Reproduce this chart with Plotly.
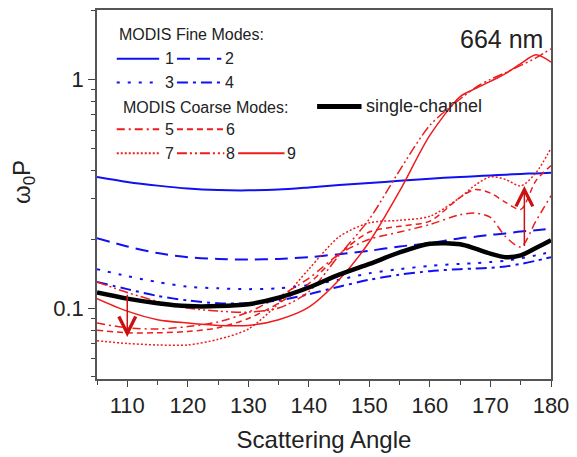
import numpy as np
import plotly.graph_objects as go

# ---------------- data ----------------
ANGLE = [105, 110, 115, 120, 125, 130, 135, 140, 145, 150, 155, 160, 165, 167.5, 170, 172.5, 175, 177.5, 180]

FINE_1 = [0.374, 0.356, 0.343, 0.333, 0.328, 0.327, 0.330, 0.337, 0.345, 0.352, 0.360, 0.368, 0.374, 0.377, 0.380, 0.383, 0.386, 0.388, 0.390]
FINE_2 = [0.202, 0.186, 0.174, 0.167, 0.164, 0.163, 0.164, 0.167, 0.172, 0.178, 0.186, 0.192, 0.202, 0.205, 0.209, 0.212, 0.216, 0.219, 0.222]
FINE_3 = [0.148, 0.138, 0.130, 0.124, 0.122, 0.121, 0.122, 0.126, 0.133, 0.142, 0.148, 0.153, 0.156, 0.157, 0.159, 0.161, 0.165, 0.170, 0.176]
FINE_4 = [0.130, 0.121, 0.113, 0.108, 0.105, 0.105, 0.108, 0.115, 0.124, 0.133, 0.140, 0.145, 0.148, 0.149, 0.150, 0.152, 0.156, 0.161, 0.167]

COARSE_5 = [0.086, 0.082, 0.081, 0.083, 0.087, 0.096, 0.112, 0.135, 0.172, 0.200, 0.215, 0.232, 0.256, 0.260, 0.249, 0.205, 0.185, 0.240, 0.310]
COARSE_6 = [0.080, 0.078, 0.078, 0.079, 0.082, 0.090, 0.105, 0.128, 0.172, 0.215, 0.228, 0.240, 0.305, 0.330, 0.318, 0.290, 0.270, 0.360, 0.420]
COARSE_7 = [0.072, 0.070, 0.069, 0.069, 0.073, 0.081, 0.105, 0.148, 0.205, 0.236, 0.242, 0.252, 0.305, 0.345, 0.375, 0.365, 0.342, 0.390, 0.500]
COARSE_8 = [0.130, 0.117, 0.107, 0.100, 0.097, 0.096, 0.100, 0.118, 0.170, 0.245, 0.400, 0.630, 0.820, 0.920, 1.000, 1.070, 1.150, 1.240, 1.360]
COARSE_9 = [0.110, 0.097, 0.089, 0.086, 0.084, 0.084, 0.089, 0.101, 0.133, 0.195, 0.325, 0.570, 0.840, 0.910, 0.980, 1.060, 1.170, 1.280, 1.190]

SINGLE = [0.117, 0.110, 0.105, 0.102, 0.102, 0.104, 0.111, 0.123, 0.140, 0.156, 0.175, 0.191, 0.190, 0.182, 0.173, 0.167, 0.170, 0.183, 0.198]

X_TICKS = [110, 120, 130, 140, 150, 160, 170, 180]
Y_TICKS = [0.1, 1]
Y_TICK_TEXT = ["0.1", "1"]

ARROW_DOWN = dict(x=110, tail=0.116, head=0.0748)
ARROW_UP = dict(x=175.6, tail=0.184, head=0.342)

# ---------------- styles ----------------
BLUE = "#1010f0"
RED = "#ee1c1c"
FONT = "Liberation Sans, Arial, sans-serif"
TXT = "#222222"

styles = [
    ("1", FINE_1, BLUE, 2.0, "solid"),
    ("2", FINE_2, BLUE, 2.0, "13px,7px"),
    ("3", FINE_3, BLUE, 2.0, "3px,8px"),
    ("4", FINE_4, BLUE, 2.0, "11px,5px,3px,5px"),
    ("5", COARSE_5, RED, 1.5, "8px,4px,2px,4px"),
    ("6", COARSE_6, RED, 1.5, "6px,4px"),
    ("7", COARSE_7, RED, 1.5, "2px,2px"),
    ("8", COARSE_8, RED, 1.5, "10px,3px,2px,3px,2px,3px"),
    ("9", COARSE_9, RED, 1.5, "solid"),
]

fig = go.Figure()
for name, vals, col, w, dash in styles:
    fig.add_trace(go.Scatter(x=ANGLE, y=vals, mode="lines", name=name,
                             line=dict(color=col, width=w, dash=dash, shape="spline", smoothing=0.8),
                             showlegend=False))
fig.add_trace(go.Scatter(x=ANGLE, y=SINGLE, mode="lines", name="single-channel",
                         line=dict(color="black", width=4.5, shape="spline", smoothing=0.8),
                         showlegend=False))

# ---------------- layout helpers (pixel -> paper) ----------------
L, R, T, B = 97, 557, 8, 379
def px(x):
    return (x - L) / (R - L)
def py(y):
    return (B - y) / (B - T)

shapes = []
annotations = []

def leg_line(x0, x1, y, col, w, dash):
    shapes.append(dict(type="line", xref="paper", yref="paper",
                       x0=px(x0), x1=px(x1), y0=py(y), y1=py(y),
                       line=dict(color=col, width=w, dash=dash)))

def text(x, y, s, size, xanchor="left"):
    annotations.append(dict(xref="paper", yref="paper", x=px(x), y=py(y), text=s,
                            showarrow=False, xanchor=xanchor, yanchor="middle",
                            font=dict(family=FONT, size=size, color=TXT)))

text(117, 33, "MODIS Fine Modes:", 16)
leg_line(117, 160, 57, BLUE, 2, "solid"); text(170, 57, "1", 16, "center")
leg_line(178, 223, 57, BLUE, 2, "13px,7px"); text(231, 57, "2", 16, "center")
leg_line(117, 160, 81, BLUE, 2, "3px,8px"); text(170, 81, "3", 16, "center")
leg_line(178, 223, 81, BLUE, 2, "11px,5px,3px,5px"); text(231, 81, "4", 16, "center")
text(121, 106, "MODIS Coarse Modes:", 16)
leg_line(117, 160, 128, RED, 2, "8px,4px,2px,4px"); text(170, 128, "5", 16, "center")
leg_line(178, 226, 128, RED, 2, "6px,4px"); text(232, 128, "6", 16, "center")
leg_line(117, 160, 152, RED, 2, "2px,2px"); text(170, 152, "7", 16, "center")
leg_line(178, 226, 152, RED, 2, "10px,3px,2px,3px,2px,3px"); text(232, 152, "8", 16, "center")
leg_line(240, 287, 152, RED, 2, "solid"); text(294, 152, "9", 16, "center")
leg_line(320, 365, 105, "black", 5, "solid"); text(368, 105, "single-channel", 18)
text(551, 37, "664 nm", 25, "right")

# y-axis title
annotations.append(dict(xref="paper", yref="paper", x=px(22), y=py(181),
                        text="ω<sub>0</sub>P", showarrow=False, textangle=-90,
                        xanchor="center", yanchor="middle",
                        font=dict(family=FONT, size=24, color=TXT)))

# arrows (data coordinates; log axis -> log10 values)
for a in (ARROW_DOWN, ARROW_UP):
    annotations.append(dict(xref="x", yref="y", axref="x", ayref="y",
                            x=a["x"], y=np.log10(a["head"]), ax=a["x"], ay=np.log10(a["tail"]),
                            text="", showarrow=True, arrowhead=5, arrowsize=2.2,
                            arrowwidth=1.5, arrowcolor="#cc1010", standoff=0))

fig.update_layout(
    width=577, height=457,
    margin=dict(l=L, r=577 - R, t=T, b=457 - B),
    paper_bgcolor="white", plot_bgcolor="white",
    shapes=shapes, annotations=annotations,
    font=dict(family=FONT, color=TXT),
    xaxis=dict(range=[105, 180], tickvals=X_TICKS, ticks="outside", ticklen=6, tickwidth=1.2,
               tickcolor="#444", showline=True, linecolor="#555", linewidth=1.5, mirror=True,
               showgrid=False, zeroline=False,
               tickfont=dict(family=FONT, size=22, color=TXT),
               minor=dict(ticks="outside", ticklen=4, dtick=5, tickcolor="#444", showgrid=False),
               title=dict(text="Scattering Angle", font=dict(family=FONT, size=24, color=TXT), standoff=14)),
    yaxis=dict(type="log", range=[-1.31, 0.303], tickvals=Y_TICKS, ticktext=Y_TICK_TEXT,
               ticks="outside", ticklen=7, tickwidth=1.2, tickcolor="#444",
               showline=True, linecolor="#555", linewidth=1.5, mirror=True,
               showgrid=False, zeroline=False,
               tickfont=dict(family=FONT, size=22, color=TXT),
               minor=dict(ticks="outside", ticklen=4, dtick="D1", tickcolor="#444", showgrid=False)),
)

fig.write_html("out.html")
